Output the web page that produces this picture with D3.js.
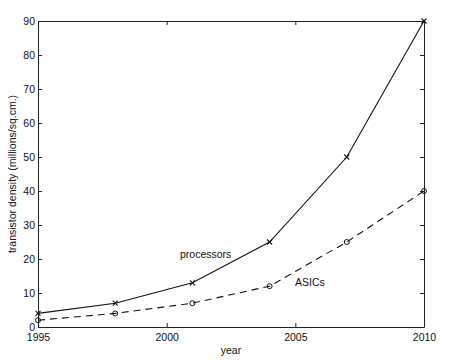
<!DOCTYPE html>
<html>
<head>
<meta charset="utf-8">
<script src="https://cdn.jsdelivr.net/npm/d3@7"></script>
<style>
  body { margin: 0; background: #fff; }
  text { font-family: "Liberation Sans", Arial, sans-serif; fill: #111; }
</style>
</head>
<body>
<div id="chart"></div>
<script>
var years = [1995, 1998, 2001, 2004, 2007, 2010];
var processors = [4, 7, 13, 25, 50, 90];
var asics = [2, 4, 7, 12, 25, 40];
var xTicks = [1995, 2000, 2005, 2010];
var yTicks = [0, 10, 20, 30, 40, 50, 60, 70, 80, 90];

var width = 450, height = 362;
var margin = {top: 21, right: 26, bottom: 35, left: 38};

var svg = d3.select("#chart").append("svg")
    .attr("width", width)
    .attr("height", height);

var x = d3.scaleLinear().domain([1995, 2010]).range([margin.left, width - margin.right]);
var y = d3.scaleLinear().domain([0, 90]).range([height - margin.bottom, margin.top]);

// axes, MATLAB style with inward ticks on every side
svg.append("g")
    .attr("transform", "translate(0," + y(0) + ")")
    .call(d3.axisBottom(x).tickValues(xTicks).tickFormat(d3.format("d")).tickSizeInner(-4).tickSizeOuter(0).tickPadding(7))
    .call(g => g.selectAll("text").style("font-size", "10.5px"));
svg.append("g")
    .attr("transform", "translate(" + x(1995) + ",0)")
    .call(d3.axisLeft(y).tickValues(yTicks).tickSizeInner(-4).tickSizeOuter(0).tickPadding(3))
    .call(g => g.selectAll("text").style("font-size", "10.5px"));
svg.append("g")
    .attr("transform", "translate(0," + y(90) + ")")
    .call(d3.axisTop(x).tickValues(xTicks).tickSizeInner(-4).tickSizeOuter(0).tickFormat(""));
svg.append("g")
    .attr("transform", "translate(" + x(2010) + ",0)")
    .call(d3.axisRight(y).tickValues(yTicks).tickSizeInner(-4).tickSizeOuter(0).tickFormat(""));
svg.selectAll(".domain, .tick line").attr("stroke", "#222");

var line = d3.line().x((d, i) => x(years[i])).y(d => y(d));

svg.append("path").datum(processors)
    .attr("d", line).attr("fill", "none").attr("stroke", "#111").attr("stroke-width", 1.1);
svg.append("path").datum(asics)
    .attr("d", line).attr("fill", "none").attr("stroke", "#111").attr("stroke-width", 1.1)
    .attr("stroke-dasharray", "7,5");

// x markers
svg.selectAll(".xm").data(processors).enter().append("path")
    .attr("d", function (d, i) {
        var cx = x(years[i]), cy = y(d), s = 2.5;
        return "M" + (cx - s) + "," + (cy - s) + "L" + (cx + s) + "," + (cy + s) +
            "M" + (cx - s) + "," + (cy + s) + "L" + (cx + s) + "," + (cy - s);
    })
    .attr("stroke", "#111").attr("stroke-width", 1.1);
// circle markers
svg.selectAll(".om").data(asics).enter().append("circle")
    .attr("cx", (d, i) => x(years[i])).attr("cy", d => y(d)).attr("r", 2.5)
    .attr("fill", "none").attr("stroke", "#111").attr("stroke-width", 1);

svg.append("text").attr("x", 180).attr("y", 258).style("font-size", "10.5px").text("processors");
svg.append("text").attr("x", 295).attr("y", 286).style("font-size", "10.5px").text("ASICs");

svg.append("text").attr("x", 231).attr("y", 354).attr("text-anchor", "middle")
    .style("font-size", "10.5px").text("year");
svg.append("text")
    .attr("transform", "translate(16," + ((y(0) + y(90)) / 2) + ") rotate(-90)")
    .attr("text-anchor", "middle").style("font-size", "10.5px")
    .text("transistor density (millions/sq.cm.)");
</script>
</body>
</html>
